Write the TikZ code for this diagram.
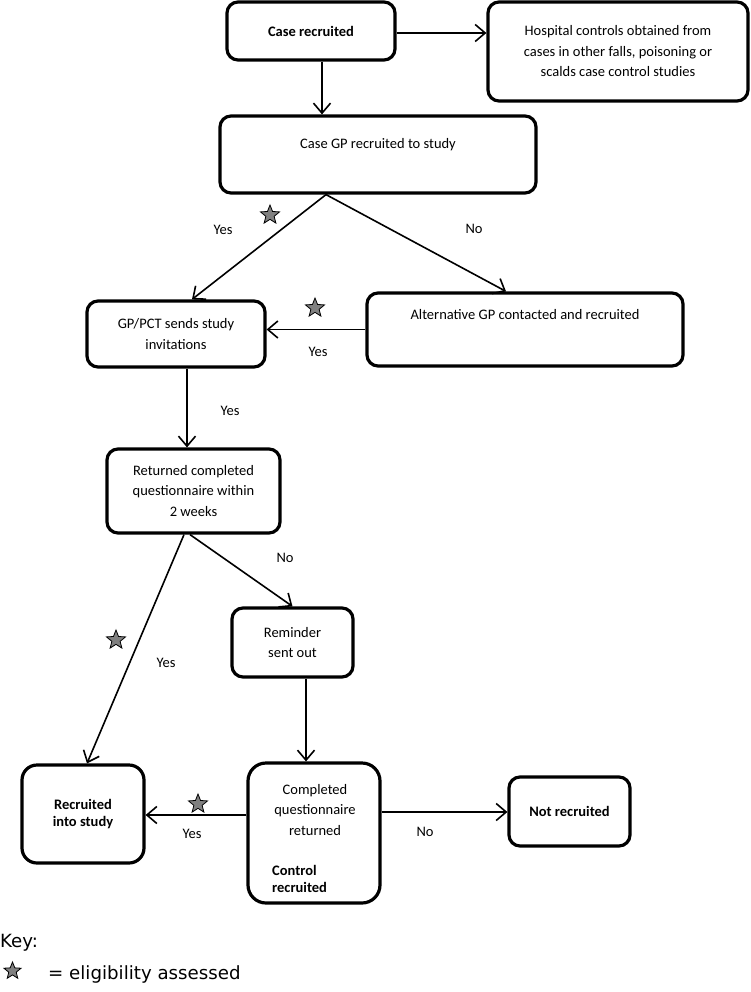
\documentclass[tikz,border=0pt]{standalone}
\usepackage{fontspec}
\setmainfont{Carlito}
\newfontfamily\keyfont{DejaVu Sans}
\usetikzlibrary{arrows.meta,shapes.geometric}
\begin{document}
\begin{tikzpicture}[x=1pt,y=-1pt,
 box/.style={draw, line width=3.2pt, rounded corners=11pt, inner sep=0pt},
 txt/.style={font=\fontsize{14.5}{20.5}\selectfont, align=center, inner sep=0pt},
 btxt/.style={font=\fontsize{14.5}{17.5}\selectfont\bfseries, align=center, inner sep=0pt},
 arr/.style={line width=1.6pt, -{Straight Barb[length=10pt,width=17pt,line width=1.6pt]}},
 lbl/.style={font=\fontsize{14.5}{17}\selectfont, inner sep=0pt},
 estar/.style={star, star points=5, star point ratio=2.3, draw, fill=gray, line width=0.8pt, minimum size=20pt, inner sep=0pt},
 keytxt/.style={font=\keyfont\fontsize{18.2}{20}\selectfont, inner sep=0pt, anchor=west},
]
\useasboundingbox (0,0) rectangle (750,992);

% boxes
\node[box, btxt, minimum width=168pt, minimum height=58pt] (cr) at (311,31) {Case recruited};
\node[box, txt, minimum width=260pt, minimum height=99pt] (hosp) at (618,51.5) {Hospital controls obtained from\\cases in other falls, poisoning or\\scalds case control studies};
\node[box, minimum width=316pt, minimum height=77pt] (cgp) at (378,154.5) {};
\node[txt] (cgpt) at (378,145) {Case GP recruited to study};
\node[box, minimum width=316pt, minimum height=73pt] (alt) at (525,329.5) {};
\node[txt] (altt) at (525,315) {Alternative GP contacted and recruited};
\node[box, txt, minimum width=178pt, minimum height=66pt] (gp) at (176,334) {GP/PCT sends study\\invitations};
\node[box, txt, minimum width=173pt, minimum height=84pt] (ret) at (193.5,491) {Returned completed\\questionnaire within\\2 weeks};
\node[box, txt, minimum width=121pt, minimum height=69pt] (rem) at (292.5,642.5) {Reminder\\sent out};
\node[box, btxt, rounded corners=15pt, minimum width=122pt, minimum height=98pt] (rec) at (83,814) {Recruited\\into study};
\node[box, rounded corners=18pt, minimum width=132pt, minimum height=140pt] (comp) at (314,833) {};
\node[txt] (compt) at (315,810) {Completed\\questionnaire\\returned};
\node[btxt, align=left, anchor=west] (compb) at (272,879) {Control\\recruited};
\node[box, btxt, minimum width=121pt, minimum height=69pt] (not) at (569.5,811.5) {Not recruited};

% connectors
\coordinate (apex) at ([xshift=-52pt]cgp.south);
\draw[arr] ([xshift=11pt]cr.south) -- ([xshift=11pt]cr.south |- cgp.north);
\draw[arr] ([yshift=-2pt]cr.east) -- ([yshift=-2pt]cr.east -| hosp.west);
\draw[arr] (apex) -- ([xshift=16pt]gp.north);
\draw[arr] (apex) -- ([xshift=-19pt]alt.north);
\draw[arr] (alt.west) -- (alt.west -| gp.east);
\draw[arr] ([xshift=11pt]gp.south) -- ([xshift=11pt]gp.south |- ret.north);
\draw[arr] ([xshift=-9.5pt]ret.south) -- ([xshift=4pt]rec.north);
\draw[arr] ([xshift=-3.5pt]ret.south) -- (rem.north);
\draw[arr] ([xshift=13.5pt]rem.south) -- ([xshift=13.5pt]rem.south |- comp.north);
\draw[arr] ([yshift=18pt]comp.west) -- ([yshift=18pt]comp.west -| rec.east);
\draw[arr] ([yshift=21pt]comp.east) -- ([yshift=21pt]comp.east -| not.west);

% labels
\node[lbl] (y1) at (223,230) {Yes};
\node[estar] (s1) at (270,215) {};
\node[lbl] (n1) at (474,229) {No};
\node[estar] (s2) at (315,308) {};
\node[lbl] (y2) at (318,352) {Yes};
\node[lbl] (y3) at (230,411) {Yes};
\node[lbl] (n2) at (285,558) {No};
\node[estar] (s3) at (116,640) {};
\node[lbl] (y4) at (166,663) {Yes};
\node[estar] (s4) at (198,804) {};
\node[lbl] (y5) at (192,834) {Yes};
\node[lbl] (n3) at (425,832) {No};

% key
\node[keytxt] (key) at (0,943) {Key:};
\node[estar, minimum size=18pt] (sk) at (12.5,971) {};
\node[keytxt] (keyt) at (48,974) {= eligibility assessed};
\end{tikzpicture}
\end{document}
